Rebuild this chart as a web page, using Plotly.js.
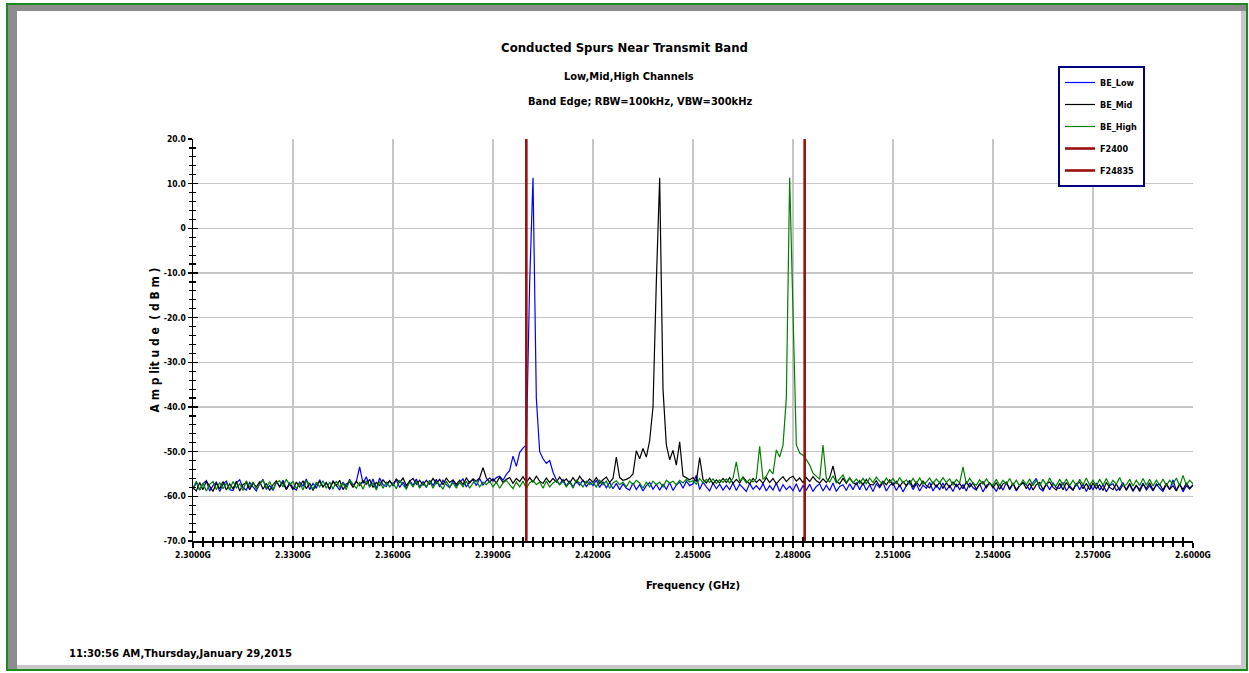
<!DOCTYPE html>
<html><head><meta charset="utf-8">
<script src="https://cdn.plot.ly/plotly-3.0.1.min.js"></script>
<style>html,body{margin:0;padding:0;background:#fff;overflow:hidden}#chart{width:1249px;height:673px}</style>
</head><body><div id="chart"></div>
<script>
// Sweep grid (instrument start / step)
const freqStartGHz = 2.300;
const freqStepGHz = 0.001;

const beLow = [
-58.4,-56.9,-58.6,-57.2,-56.5,-58.8,-57.6,-56.8,-58.9,-57.3,
-56.6,-58.5,-58.7,-57.0,-56.3,-58.1,-58.6,-56.9,-57.9,-58.8,
-57.2,-56.2,-58.4,-57.6,-58.7,-56.7,-57.8,-56.4,-58.3,-57.0,
-58.1,-58.6,-56.8,-57.7,-56.1,-58.5,-57.1,-58.2,-56.3,-57.9,
-56.9,-58.5,-56.5,-57.7,-58.6,-56.8,-57.9,-56.2,-57.5,-56.7,
-53.4,-57.1,-55.6,-57.9,-56.1,-58.3,-55.9,-57.4,-57.8,-56.5,
-57.6,-56.3,-58.0,-56.8,-58.2,-56.5,-57.5,-56.1,-57.9,-56.7,
-58.0,-56.4,-57.6,-56.2,-57.9,-56.4,-57.4,-58.1,-56.5,-57.7,
-56.8,-56.1,-57.9,-56.7,-56.3,-57.6,-56.0,-57.5,-56.5,-55.9,
-56.6,-55.8,-55.5,-56.4,-55.1,-54.2,-51.0,-53.3,-50.2,-49.2,
-48.5,-12.0,11.3,-38.0,-50.0,-51.6,-52.6,-52.0,-54.6,-56.3,
-57.3,-56.2,-57.7,-56.5,-57.9,-56.6,-57.5,-56.3,-57.8,-56.8,
-57.6,-56.4,-58.0,-56.8,-58.1,-56.9,-58.3,-57.1,-58.5,-57.2,
-58.2,-58.6,-57.0,-58.5,-57.4,-58.8,-57.6,-56.9,-58.4,-57.3,
-58.6,-57.3,-58.4,-56.9,-58.7,-57.5,-56.8,-58.2,-56.6,-57.6,
-57.2,-55.3,-58.5,-56.8,-57.9,-58.8,-57.0,-58.3,-57.3,-58.6,
-57.5,-58.5,-57.0,-58.7,-57.3,-58.2,-58.9,-57.1,-58.4,-57.6,
-58.5,-57.2,-58.8,-57.6,-58.6,-57.0,-58.9,-57.4,-58.5,-57.7,
-58.7,-57.2,-59.0,-57.6,-58.6,-57.3,-58.9,-57.8,-57.2,-58.8,
-57.5,-58.7,-57.0,-58.9,-57.8,-57.4,-58.7,-57.2,-58.5,-56.9,
-58.5,-57.0,-58.7,-57.4,-58.9,-57.2,-58.1,-56.9,-58.8,-57.6,
-57.0,-58.7,-57.4,-59.0,-57.6,-56.8,-58.5,-57.2,-58.8,-57.5,
-58.2,-56.9,-58.8,-57.5,-58.5,-57.0,-58.7,-57.6,-58.9,-57.2,
-58.5,-57.4,-58.8,-57.0,-58.1,-58.6,-57.2,-59.0,-57.6,-57.0,
-57.7,-58.9,-57.3,-58.6,-56.9,-58.5,-57.2,-58.8,-57.6,-57.0,
-57.4,-58.6,-56.9,-56.0,-58.2,-58.8,-57.2,-58.5,-57.0,-58.1,
-58.2,-56.9,-58.8,-57.6,-58.6,-57.0,-58.5,-57.2,-58.9,-57.4,
-58.5,-57.0,-58.6,-57.4,-59.0,-57.6,-57.2,-58.7,-58.1,-56.9,
-58.7,-57.4,-58.9,-57.6,-58.5,-57.0,-58.6,-57.6,-58.8,-57.2,
-58.2,-58.9,-57.4,-58.5,-56.3,-58.7,-57.2,-59.0,-57.6,-58.4,
-57.4];

const beMid = [
-58.1,-58.8,-56.9,-58.5,-56.6,-57.8,-58.9,-57.0,-58.3,-56.7,
-58.6,-57.2,-58.3,-56.6,-58.8,-57.4,-56.9,-58.5,-57.0,-57.9,
-56.7,-58.4,-57.1,-58.7,-57.4,-56.5,-57.9,-56.9,-58.5,-57.2,
-58.5,-56.8,-57.9,-56.5,-58.3,-57.0,-58.7,-57.3,-56.7,-57.9,
-57.0,-58.3,-56.7,-57.6,-56.4,-58.5,-57.2,-56.8,-58.0,-56.6,
-57.6,-56.5,-57.3,-56.2,-58.0,-56.9,-57.6,-56.3,-57.2,-56.6,
-57.4,-56.1,-56.9,-55.9,-57.6,-56.6,-56.0,-57.3,-56.4,-57.5,
-56.4,-57.3,-56.0,-57.1,-56.2,-57.4,-55.9,-56.9,-56.3,-57.3,
-56.4,-57.4,-55.9,-57.0,-56.1,-56.6,-55.8,-53.6,-55.9,-56.8,
-56.1,-57.0,-55.7,-56.9,-56.2,-55.8,-57.1,-56.0,-56.7,-55.6,
-56.9,-55.8,-56.8,-55.5,-56.6,-57.1,-55.9,-56.9,-56.0,-56.8,
-55.7,-56.8,-56.1,-57.1,-55.8,-56.9,-55.5,-56.6,-57.0,-56.1,
-56.9,-55.8,-57.1,-56.3,-55.7,-56.9,-56.0,-51.2,-55.8,-56.4,
-56.2,-55.8,-55.0,-49.8,-51.6,-49.3,-51.2,-47.5,-40.0,-12.0,
11.3,-36.0,-48.5,-51.8,-49.7,-53.0,-47.8,-55.4,-55.9,-56.3,
-55.8,-56.7,-51.3,-56.2,-57.0,-55.9,-57.2,-56.3,-57.0,-56.0,
-56.9,-55.8,-57.1,-56.2,-57.0,-55.7,-56.6,-57.2,-56.0,-56.9,
-56.2,-57.1,-55.8,-56.9,-56.0,-57.2,-56.3,-55.6,-56.7,-55.9,
-55.5,-56.6,-55.9,-56.9,-55.8,-56.7,-55.6,-56.5,-57.0,-56.1,
-56.9,-55.8,-53.2,-56.6,-57.2,-56.0,-57.1,-55.9,-56.9,-57.4,
-56.5,-57.4,-56.2,-57.3,-57.5,-56.5,-57.7,-56.6,-57.4,-56.3,
-57.5,-56.6,-57.8,-56.7,-57.6,-56.4,-57.9,-56.8,-57.7,-56.6,
-57.6,-58.1,-56.8,-57.9,-56.9,-58.2,-57.0,-58.0,-56.8,-57.8,
-57.1,-58.3,-56.8,-57.9,-57.0,-58.4,-57.3,-56.7,-58.1,-57.0,
-58.1,-56.9,-58.4,-57.2,-56.8,-58.3,-57.0,-58.6,-57.5,-56.9,
-58.3,-57.0,-58.6,-57.4,-56.9,-58.5,-57.2,-56.8,-58.0,-58.6,
-57.1,-58.5,-56.9,-58.0,-58.6,-57.3,-56.8,-58.3,-57.1,-58.5,
-57.0,-58.3,-57.4,-58.7,-56.9,-58.0,-58.5,-57.2,-58.7,-57.4,
-58.5,-57.1,-58.7,-57.5,-58.9,-57.3,-58.2,-57.0,-58.6,-57.5,
-57.3,-58.6,-57.1,-58.4,-57.6,-58.8,-57.3,-58.5,-57.0,-58.2,
-57.5];

const beHigh = [
-58.2,-56.6,-58.6,-57.0,-58.8,-57.3,-56.7,-58.5,-56.9,-58.3,
-57.0,-58.5,-56.7,-58.1,-57.2,-58.7,-56.5,-57.9,-56.8,-58.4,
-57.3,-56.4,-58.2,-56.7,-58.5,-57.0,-56.5,-57.9,-56.2,-57.4,
-56.7,-58.3,-57.0,-58.6,-56.5,-57.4,-58.4,-56.8,-57.9,-56.5,
-58.2,-56.8,-58.4,-56.6,-57.9,-57.1,-58.5,-56.4,-57.4,-58.2,
-56.8,-58.4,-56.5,-57.9,-57.0,-58.6,-56.7,-58.2,-56.8,-57.9,
-57.0,-58.3,-56.5,-57.4,-58.4,-56.8,-57.9,-56.6,-58.2,-57.0,
-57.9,-56.5,-58.2,-56.8,-57.4,-58.4,-56.6,-57.9,-57.0,-58.2,
-56.8,-57.9,-56.6,-58.2,-57.0,-56.5,-57.9,-56.8,-57.4,-56.6,
-57.9,-56.8,-58.2,-57.0,-56.4,-57.4,-58.3,-56.8,-57.9,-56.6,
-58.2,-57.0,-56.4,-57.4,-56.8,-58.2,-56.6,-57.9,-57.0,-56.5,
-57.4,-56.6,-57.9,-56.8,-58.2,-56.4,-57.0,-57.9,-56.6,-57.4,
-56.8,-57.9,-56.4,-57.4,-56.6,-58.2,-57.0,-56.5,-57.4,-56.8,
-57.9,-56.6,-57.4,-56.4,-57.0,-58.2,-56.8,-57.9,-56.6,-57.4,
-56.8,-57.9,-56.4,-57.0,-56.6,-57.4,-56.4,-57.0,-56.2,-56.8,
-56.5,-57.3,-56.0,-57.0,-56.2,-56.9,-56.1,-57.1,-56.3,-56.9,
-56.1,-57.0,-55.9,-52.3,-56.6,-55.9,-57.0,-56.2,-56.8,-56.0,
-48.8,-56.2,-55.5,-54.0,-55.0,-49.6,-51.2,-48.6,-38.0,11.3,
-16.0,-48.5,-50.3,-50.8,-51.8,-53.0,-54.8,-55.6,-56.2,-48.5,
-56.0,-56.8,-55.4,-57.0,-56.1,-55.2,-56.9,-55.8,-57.0,-56.1,
-57.1,-56.0,-57.2,-55.9,-56.9,-55.7,-56.6,-57.2,-55.9,-56.9,
-56.0,-57.2,-55.8,-57.0,-56.3,-57.3,-56.0,-57.1,-55.9,-57.2,
-56.8,-55.9,-57.2,-56.1,-57.0,-55.8,-56.9,-56.1,-57.4,-56.2,
-57.0,-53.4,-57.2,-56.0,-57.1,-57.5,-56.3,-57.3,-56.1,-57.2,
-57.5,-56.2,-57.6,-56.4,-57.3,-56.0,-57.5,-56.4,-57.7,-56.3,
-57.4,-56.1,-57.6,-56.4,-57.7,-56.2,-57.5,-55.9,-57.4,-57.6,
-56.2,-57.5,-56.1,-57.6,-56.4,-57.7,-56.2,-57.4,-55.9,-57.5,
-56.4,-57.7,-56.2,-57.5,-56.0,-57.6,-56.4,-57.3,-55.8,-57.6,
-57.4,-56.2,-57.7,-56.4,-57.6,-56.0,-57.5,-56.2,-57.7,-56.4,
-57.5,-56.1,-57.6,-56.4,-57.3,-55.9,-57.7,-55.3,-57.5,-56.4,
-57.2];

const seriesNames = ['BE_Low', 'BE_Mid', 'BE_High'];
const bandEdgeNames = ['F2400', 'F24835'];
const bandEdgeFreqs = [2.400, 2.4835];
const ampRange = [-70, 20];
const freqRange = [2.300, 2.600];

const xTickVals = [2.30, 2.33, 2.36, 2.39, 2.42, 2.45, 2.48, 2.51, 2.54, 2.57, 2.60];
const xTickText = ['2.3000G','2.3300G','2.3600G','2.3900G','2.4200G','2.4500G','2.4800G','2.5100G','2.5400G','2.5700G','2.6000G'];
const yTickVals = [-70, -60, -50, -40, -30, -20, -10, 0, 10, 20];
const yTickText = ['-70.0','-60.0','-50.0','-40.0','-30.0','-20.0','-10.0','0','10.0','20.0'];

const titleText = 'Conducted Spurs Near Transmit Band';
const subtitle1 = 'Low,Mid,High Channels';
const subtitle2 = 'Band Edge; RBW=100kHz, VBW=300kHz';
const stampText = '11:30:56 AM,Thursday,January 29,2015';

// ---- layout helpers (plot area in page pixels) ----
const PL = 193, PR = 1193, PT = 139, PB = 541;
const px = x => (x - PL) / (PR - PL);
const py = y => (PB - y) / (PB - PT);

const FONT = "'Liberation Sans Narrow', 'Arial Narrow', 'DejaVu Sans Condensed', sans-serif";
const bold = (size) => ({family: FONT, size: size, color: '#000', weight: 700});

const traceColors = ['#0000ff', '#000000', '#008000'];
const seriesData = [beLow, beMid, beHigh];

const traces = seriesData.map((ys, i) => ({
  type: 'scatter', mode: 'lines', name: seriesNames[i], legendgroup: seriesNames[i],
  x0: freqStartGHz, dx: freqStepGHz, y: ys,
  line: {color: traceColors[i], width: 1.2},
  hoverinfo: 'skip'
}));
bandEdgeFreqs.forEach((f, i) => {
  traces.push({
    type: 'scatter', mode: 'lines', name: bandEdgeNames[i], legendgroup: bandEdgeNames[i],
    x: [f, f], y: ampRange,
    line: {color: '#990f0f', width: 2.6},
    hoverinfo: 'skip'
  });
});
// empty trace to register the overlay axes (inside tick marks)
traces.push({type: 'scatter', mode: 'lines', x: [], y: [], xaxis: 'x2', yaxis: 'y2', showlegend: false, hoverinfo: 'skip'});

const shapes = [
  {type: 'rect', xref: 'paper', yref: 'paper', x0: px(8), x1: px(1246), y0: py(5), y1: py(11), fillcolor: '#8c8c8c', line: {width: 0}, layer: 'below'},
  {type: 'rect', xref: 'paper', yref: 'paper', x0: px(8), x1: px(17), y0: py(5), y1: py(669), fillcolor: '#8c8c8c', line: {width: 0}, layer: 'below'},
  {type: 'rect', xref: 'paper', yref: 'paper', x0: px(1241), x1: px(1246), y0: py(11), y1: py(669), fillcolor: '#c8c8c8', line: {width: 0}, layer: 'below'},
  {type: 'rect', xref: 'paper', yref: 'paper', x0: px(17), x1: px(1246), y0: py(665), y1: py(669), fillcolor: '#c8c8c8', line: {width: 0}, layer: 'below'},
  {type: 'rect', xref: 'paper', yref: 'paper', x0: px(7), x1: px(1247), y0: py(4), y1: py(670), line: {color: '#1d8a1d', width: 2}, fillcolor: 'rgba(0,0,0,0)'}
];

const axisCommon = {
  showline: true, linecolor: '#000', linewidth: 1.5,
  showgrid: true, gridcolor: '#c6c6c6', gridwidth: 1.5,
  zeroline: false, fixedrange: true, automargin: false,
  tickfont: bold(8.5)
};

const layout = {
  width: 1249, height: 673,
  paper_bgcolor: '#ffffff', plot_bgcolor: '#ffffff',
  margin: {l: PL, r: 1249 - PR, t: PT, b: 673 - PB, pad: 0},
  showlegend: true,
  title: {text: titleText, font: bold(13), x: 0.5, xref: 'container', xanchor: 'center',
          y: 1 - 47 / 673, yref: 'container', yanchor: 'middle'},
  xaxis: Object.assign({}, axisCommon, {
    range: freqRange, tickmode: 'array', tickvals: xTickVals, ticktext: xTickText,
    ticks: 'outside', ticklen: 5, tickwidth: 1.5, tickcolor: '#000',
    minor: {tickmode: 'linear', tick0: 2.3, dtick: 0.003, ticks: 'outside', ticklen: 4, tickwidth: 1.2, tickcolor: '#000', showgrid: false},
    title: {text: 'Frequency (GHz)', font: bold(11.2), standoff: 22}
  }),
  yaxis: Object.assign({}, axisCommon, {
    range: ampRange, tickmode: 'array', tickvals: yTickVals, ticktext: yTickText,
    ticks: 'outside', ticklen: 4, tickwidth: 1.5, tickcolor: '#000',
    minor: {tickmode: 'linear', tick0: -70, dtick: 2, ticks: 'outside', ticklen: 3, tickwidth: 1.2, tickcolor: '#000', showgrid: false},
    title: {text: 'A m p lit u d e  ( d B m )', font: bold(12), standoff: 1}
  }),
  xaxis2: {overlaying: 'x', anchor: 'y2', range: freqRange, tickmode: 'array', tickvals: xTickVals,
    showticklabels: false, showgrid: false, zeroline: false, showline: false, fixedrange: true,
    ticks: 'inside', ticklen: 5, tickwidth: 1.5, tickcolor: '#000',
    minor: {tickmode: 'linear', tick0: 2.3, dtick: 0.003, ticks: 'inside', ticklen: 4, tickwidth: 1.2, tickcolor: '#000', showgrid: false}},
  yaxis2: {overlaying: 'y', anchor: 'x2', side: 'left', range: ampRange, tickmode: 'array', tickvals: yTickVals,
    showticklabels: false, showgrid: false, zeroline: false, showline: false, fixedrange: true,
    ticks: 'inside', ticklen: 5, tickwidth: 1.5, tickcolor: '#000',
    minor: {tickmode: 'linear', tick0: -70, dtick: 2, ticks: 'inside', ticklen: 3, tickwidth: 1.2, tickcolor: '#000', showgrid: false}},
  legend: {x: px(1058), y: py(66), xanchor: 'left', yanchor: 'top',
    bgcolor: '#ffffff', bordercolor: '#000080', borderwidth: 2,
    font: bold(9), itemwidth: 30, tracegroupgap: 3},
  shapes: shapes,
  annotations: [
    {text: subtitle1, xref: 'paper', yref: 'paper', x: px(629), y: py(77), xanchor: 'center', yanchor: 'middle', showarrow: false, font: bold(11)},
    {text: subtitle2, xref: 'paper', yref: 'paper', x: px(640), y: py(102), xanchor: 'center', yanchor: 'middle', showarrow: false, font: bold(11)},
    {text: stampText, xref: 'paper', yref: 'paper', x: px(67), y: py(653), xanchor: 'left', yanchor: 'middle', showarrow: false, font: bold(11.2)}
  ]
};

Plotly.newPlot('chart', traces, layout, {displayModeBar: false, staticPlot: true});
</script>
</body></html>
